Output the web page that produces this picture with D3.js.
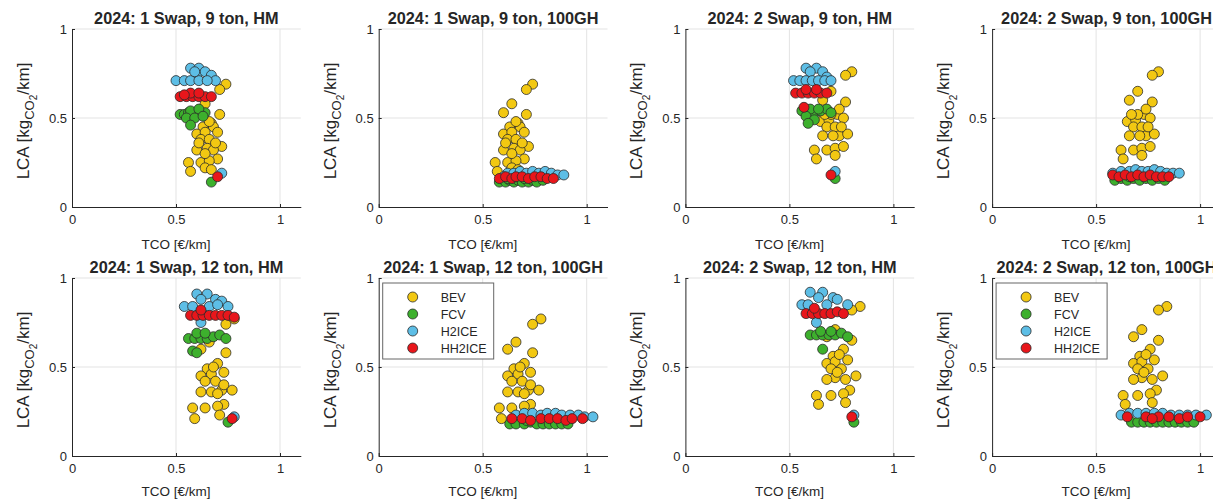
<!DOCTYPE html>
<html>
<head>
<meta charset="utf-8">
<script src="https://cdn.jsdelivr.net/npm/d3@7"></script>
<style>
  html, body { margin: 0; padding: 0; background: #fff; }
  svg { display: block; }
  text { font-family: "Liberation Sans", Arial, sans-serif; fill: #262626; }
</style>
</head>
<body>
<script>
// ---------------- data ----------------
const seriesNames = ["BEV", "FCV", "H2ICE", "HH2ICE"];
const seriesColors = ["#F2C812", "#3DB02D", "#5DBEE6", "#E8161B"];
const panelTitles = [
  "2024: 1 Swap, 9 ton, HM", "2024: 1 Swap, 9 ton, 100GH",
  "2024: 2 Swap, 9 ton, HM", "2024: 2 Swap, 9 ton, 100GH",
  "2024: 1 Swap, 12 ton, HM", "2024: 1 Swap, 12 ton, 100GH",
  "2024: 2 Swap, 12 ton, HM", "2024: 2 Swap, 12 ton, 100GH"
];
const tickValues = [0, 0.5, 1];
const tickLabels = ["0", "0.5", "1"];
const xLabel = "TCO [€/km]";

// BEV (same for HM and 100GH scenarios)
const bev_1s_9t = [[0.74,0.69],[0.71,0.66],[0.64,0.58],[0.60,0.53],[0.71,0.52],[0.67,0.47],[0.68,0.45],[0.63,0.45],[0.60,0.41],[0.64,0.42],[0.70,0.42],[0.62,0.38],[0.66,0.38],[0.72,0.34],[0.60,0.32],[0.65,0.33],[0.68,0.32],[0.70,0.27],[0.56,0.25],[0.62,0.25],[0.66,0.26],[0.57,0.20],[0.64,0.22],[0.67,0.21],[0.66,0.48],[0.69,0.36],[0.64,0.30],[0.61,0.36]];
const bev_2s_9t = [[0.80,0.76],[0.77,0.74],[0.66,0.60],[0.70,0.65],[0.77,0.59],[0.65,0.48],[0.69,0.49],[0.73,0.52],[0.76,0.50],[0.68,0.45],[0.72,0.45],[0.66,0.40],[0.74,0.40],[0.78,0.41],[0.62,0.32],[0.68,0.32],[0.72,0.33],[0.76,0.34],[0.63,0.27],[0.72,0.29],[0.70,0.52],[0.74,0.55],[0.71,0.40],[0.67,0.52],[0.75,0.45]];
const bev_1s_12t = [[0.78,0.77],[0.74,0.74],[0.66,0.64],[0.62,0.60],[0.74,0.58],[0.70,0.52],[0.65,0.49],[0.73,0.47],[0.62,0.45],[0.67,0.46],[0.64,0.42],[0.69,0.42],[0.72,0.37],[0.77,0.37],[0.62,0.36],[0.67,0.36],[0.70,0.35],[0.73,0.29],[0.58,0.27],[0.64,0.27],[0.70,0.28],[0.59,0.21],[0.71,0.23],[0.68,0.50],[0.73,0.40]];
const bev_2s_12t = [[0.84,0.84],[0.80,0.82],[0.72,0.71],[0.68,0.67],[0.80,0.65],[0.76,0.60],[0.78,0.54],[0.71,0.56],[0.68,0.52],[0.72,0.53],[0.75,0.49],[0.70,0.49],[0.82,0.45],[0.72,0.44],[0.68,0.43],[0.77,0.43],[0.79,0.37],[0.76,0.35],[0.63,0.34],[0.70,0.34],[0.77,0.30],[0.64,0.29],[0.74,0.57],[0.73,0.47]];

// FCV
const fcv_1s_9t_HM = [[0.52,0.52],[0.54,0.52],[0.56,0.53],[0.58,0.52],[0.60,0.53],[0.62,0.52],[0.64,0.53],[0.57,0.54],[0.61,0.55],[0.55,0.50],[0.59,0.50],[0.57,0.46],[0.63,0.51],[0.67,0.14]];
const fcv_1s_9t_GH = [[0.58,0.14],[0.61,0.14],[0.63,0.15],[0.65,0.14],[0.67,0.15],[0.69,0.14],[0.72,0.14],[0.74,0.15],[0.76,0.14],[0.79,0.15],[0.62,0.16],[0.70,0.16]];
const fcv_2s_9t_HM = [[0.56,0.54],[0.59,0.53],[0.62,0.53],[0.65,0.54],[0.68,0.55],[0.60,0.55],[0.64,0.55],[0.70,0.53],[0.58,0.51],[0.62,0.49],[0.59,0.47],[0.72,0.16]];
const fcv_2s_9t_GH = [[0.59,0.15],[0.62,0.16],[0.65,0.15],[0.68,0.16],[0.71,0.15],[0.74,0.16],[0.77,0.15],[0.80,0.16],[0.83,0.15],[0.66,0.17]];
const fcv_1s_12t_HM = [[0.56,0.66],[0.59,0.66],[0.62,0.66],[0.65,0.66],[0.68,0.67],[0.71,0.68],[0.74,0.66],[0.60,0.69],[0.64,0.69],[0.58,0.59],[0.60,0.58],[0.75,0.19]];
const fcv_1s_12t_GH = [[0.63,0.18],[0.66,0.18],[0.70,0.18],[0.73,0.19],[0.76,0.18],[0.79,0.18],[0.82,0.18],[0.85,0.18],[0.88,0.18],[0.91,0.18],[0.71,0.20]];
const fcv_2s_12t_HM = [[0.60,0.68],[0.63,0.68],[0.66,0.68],[0.69,0.68],[0.72,0.68],[0.75,0.69],[0.78,0.67],[0.65,0.70],[0.70,0.70],[0.66,0.60],[0.81,0.19]];
const fcv_2s_12t_GH = [[0.67,0.19],[0.70,0.19],[0.73,0.19],[0.76,0.19],[0.79,0.19],[0.82,0.19],[0.85,0.19],[0.88,0.19],[0.91,0.19],[0.94,0.19],[0.97,0.19]];

// H2ICE
const h2ice_1s_9t_HM = [[0.57,0.78],[0.61,0.78],[0.60,0.74],[0.64,0.76],[0.67,0.74],[0.69,0.71],[0.50,0.71],[0.54,0.71],[0.57,0.71],[0.61,0.71],[0.65,0.71],[0.59,0.76],[0.72,0.19]];
const h2ice_1s_9t_GH = [[0.62,0.19],[0.65,0.19],[0.68,0.20],[0.71,0.19],[0.74,0.20],[0.77,0.19],[0.80,0.20],[0.83,0.19],[0.86,0.18],[0.89,0.18],[0.60,0.17]];
const h2ice_2s_9t_HM = [[0.58,0.78],[0.63,0.78],[0.60,0.76],[0.66,0.76],[0.68,0.73],[0.52,0.71],[0.55,0.71],[0.58,0.71],[0.61,0.71],[0.64,0.71],[0.67,0.71],[0.70,0.71],[0.72,0.20]];
const h2ice_2s_9t_GH = [[0.58,0.19],[0.62,0.20],[0.66,0.20],[0.69,0.21],[0.72,0.20],[0.75,0.20],[0.78,0.21],[0.81,0.20],[0.84,0.19],[0.87,0.19],[0.90,0.19]];
const h2ice_1s_12t_HM = [[0.60,0.91],[0.65,0.91],[0.62,0.88],[0.69,0.88],[0.72,0.87],[0.54,0.84],[0.58,0.84],[0.66,0.84],[0.70,0.85],[0.75,0.84],[0.62,0.75],[0.78,0.22]];
const h2ice_1s_12t_GH = [[0.66,0.23],[0.70,0.24],[0.74,0.24],[0.78,0.23],[0.81,0.24],[0.85,0.24],[0.88,0.23],[0.92,0.23],[0.96,0.23],[0.99,0.22],[1.03,0.22]];
const h2ice_2s_12t_HM = [[0.60,0.92],[0.66,0.92],[0.64,0.89],[0.71,0.89],[0.73,0.88],[0.56,0.85],[0.59,0.85],[0.68,0.85],[0.78,0.85],[0.63,0.75],[0.81,0.23]];
const h2ice_2s_12t_GH = [[0.62,0.23],[0.66,0.24],[0.70,0.24],[0.74,0.24],[0.78,0.24],[0.82,0.24],[0.86,0.23],[0.90,0.23],[0.94,0.23],[0.98,0.23],[1.03,0.23]];

// HH2ICE
const hh2ice_1s_9t_HM = [[0.52,0.62],[0.55,0.62],[0.58,0.62],[0.61,0.62],[0.64,0.62],[0.67,0.62],[0.57,0.64],[0.61,0.64],[0.54,0.63],[0.70,0.17]];
const hh2ice_1s_9t_GH = [[0.58,0.16],[0.61,0.17],[0.64,0.16],[0.66,0.17],[0.69,0.17],[0.72,0.16],[0.75,0.17],[0.78,0.17],[0.81,0.16],[0.84,0.16]];
const hh2ice_2s_9t_HM = [[0.53,0.64],[0.56,0.64],[0.59,0.64],[0.62,0.64],[0.65,0.64],[0.68,0.64],[0.58,0.66],[0.63,0.66],[0.57,0.56],[0.70,0.18]];
const hh2ice_2s_9t_GH = [[0.58,0.18],[0.61,0.17],[0.64,0.18],[0.67,0.17],[0.70,0.18],[0.73,0.17],[0.76,0.18],[0.79,0.17],[0.82,0.17],[0.85,0.17]];
const hh2ice_1s_12t_HM = [[0.57,0.79],[0.60,0.79],[0.63,0.79],[0.66,0.79],[0.69,0.79],[0.72,0.79],[0.75,0.79],[0.78,0.78],[0.62,0.82],[0.77,0.21]];
const hh2ice_1s_12t_GH = [[0.64,0.21],[0.69,0.21],[0.73,0.20],[0.78,0.21],[0.82,0.21],[0.86,0.21],[0.90,0.20],[0.93,0.21],[0.98,0.21]];
const hh2ice_2s_12t_HM = [[0.58,0.80],[0.61,0.80],[0.64,0.80],[0.67,0.80],[0.70,0.80],[0.73,0.81],[0.76,0.80],[0.62,0.83],[0.80,0.22]];
const hh2ice_2s_12t_GH = [[0.65,0.22],[0.74,0.22],[0.80,0.22],[0.85,0.22],[0.90,0.21],[0.94,0.22],[1.00,0.22],[0.77,0.21]];

const panelData = [
  [bev_1s_9t, fcv_1s_9t_HM, h2ice_1s_9t_HM, hh2ice_1s_9t_HM],
  [bev_1s_9t, fcv_1s_9t_GH, h2ice_1s_9t_GH, hh2ice_1s_9t_GH],
  [bev_2s_9t, fcv_2s_9t_HM, h2ice_2s_9t_HM, hh2ice_2s_9t_HM],
  [bev_2s_9t, fcv_2s_9t_GH, h2ice_2s_9t_GH, hh2ice_2s_9t_GH],
  [bev_1s_12t, fcv_1s_12t_HM, h2ice_1s_12t_HM, hh2ice_1s_12t_HM],
  [bev_1s_12t, fcv_1s_12t_GH, h2ice_1s_12t_GH, hh2ice_1s_12t_GH],
  [bev_2s_12t, fcv_2s_12t_HM, h2ice_2s_12t_HM, hh2ice_2s_12t_HM],
  [bev_2s_12t, fcv_2s_12t_GH, h2ice_2s_12t_GH, hh2ice_2s_12t_GH]
];
const legendPanels = [5, 7];

// ---------------- drawing ----------------
const W = 1213, H = 500;
const svg = d3.select("body").append("svg").attr("width", W).attr("height", H);

const axLeft0 = 72, colStep = 306.7, axW = 228.8, axH = 178;
const rowTops = [29, 278];
const xLabelOffsets = [42, 40];

panelData.forEach((series, i) => {
  const col = i % 4, row = Math.floor(i / 4);
  const left = axLeft0 + col * colStep;
  const top = rowTops[row];
  const x = d3.scaleLinear().domain([0, 1.1]).range([left, left + axW]);
  const y = d3.scaleLinear().domain([0, 1]).range([top + axH, top]);
  const g = svg.append("g");

  // grid
  g.selectAll(".vg").data([0.5, 1]).join("line")
    .attr("x1", d => x(d)).attr("x2", d => x(d))
    .attr("y1", top).attr("y2", top + axH)
    .attr("stroke", "#e3e3e3").attr("stroke-width", 1);
  g.selectAll(".hg").data([0.5, 1]).join("line")
    .attr("x1", left).attr("x2", left + axW)
    .attr("y1", d => y(d)).attr("y2", d => y(d))
    .attr("stroke", "#e3e3e3").attr("stroke-width", 1);

  // axes
  const fmt = d => tickLabels[tickValues.indexOf(d)];
  const xa = g.append("g").attr("transform", `translate(0,${top + axH})`)
    .call(d3.axisBottom(x).tickValues(tickValues).tickFormat(fmt).tickSizeInner(-3).tickSizeOuter(0).tickPadding(8));
  const ya = g.append("g").attr("transform", `translate(${left},0)`)
    .call(d3.axisLeft(y).tickValues(tickValues).tickFormat(fmt).tickSizeInner(-3).tickSizeOuter(0).tickPadding(5));
  [xa, ya].forEach(a => {
    a.select(".domain").attr("stroke", "#262626").attr("stroke-width", 1);
    a.selectAll(".tick line").attr("stroke", "#262626");
    a.selectAll(".tick text").attr("font-size", 13).attr("fill", "#262626")
      .attr("font-family", '"Liberation Sans", Arial, sans-serif');
  });

  // points
  series.forEach((pts, s) => {
    g.append("g").selectAll("circle").data(pts).join("circle")
      .attr("cx", d => x(d[0])).attr("cy", d => y(d[1])).attr("r", 5)
      .attr("fill", seriesColors[s]).attr("stroke", "#2b2b2b").attr("stroke-width", 0.8);
  });

  // title
  g.append("text").attr("x", left + axW / 2).attr("y", top - 5)
    .attr("text-anchor", "middle").attr("font-size", 16.3).attr("font-weight", "bold")
    .attr("fill", "#111").text(panelTitles[i]);

  // x label
  g.append("text").attr("x", x(0.5)).attr("y", top + axH + xLabelOffsets[row])
    .attr("text-anchor", "middle").attr("font-size", 13.5).text(xLabel);

  // y label
  const yl = g.append("text")
    .attr("transform", `translate(${left - 43},${top + axH / 2 + 3}) rotate(-90)`)
    .attr("text-anchor", "middle").attr("font-size", 17);
  yl.append("tspan").text("LCA [kg");
  yl.append("tspan").attr("font-size", 13).attr("dy", 5).text("CO");
  yl.append("tspan").attr("font-size", 10).attr("dy", 3).text("2");
  yl.append("tspan").attr("dy", -8).text("/km]");

  // legend
  if (legendPanels.includes(i)) {
    const lx = left + 4, ly = top + 5;
    const lg = g.append("g");
    lg.append("rect").attr("x", lx).attr("y", ly).attr("width", 111).attr("height", 76)
      .attr("fill", "#fff").attr("stroke", "#666").attr("stroke-width", 1);
    seriesNames.forEach((nm, s) => {
      const cy = ly + 14 + s * 17;
      lg.append("circle").attr("cx", lx + 30).attr("cy", cy).attr("r", 5)
        .attr("fill", seriesColors[s]).attr("stroke", "#2b2b2b").attr("stroke-width", 0.8);
      lg.append("text").attr("x", lx + 58).attr("y", cy + 4.5).attr("font-size", 12.5).text(nm);
    });
  }
});
</script>
</body>
</html>
